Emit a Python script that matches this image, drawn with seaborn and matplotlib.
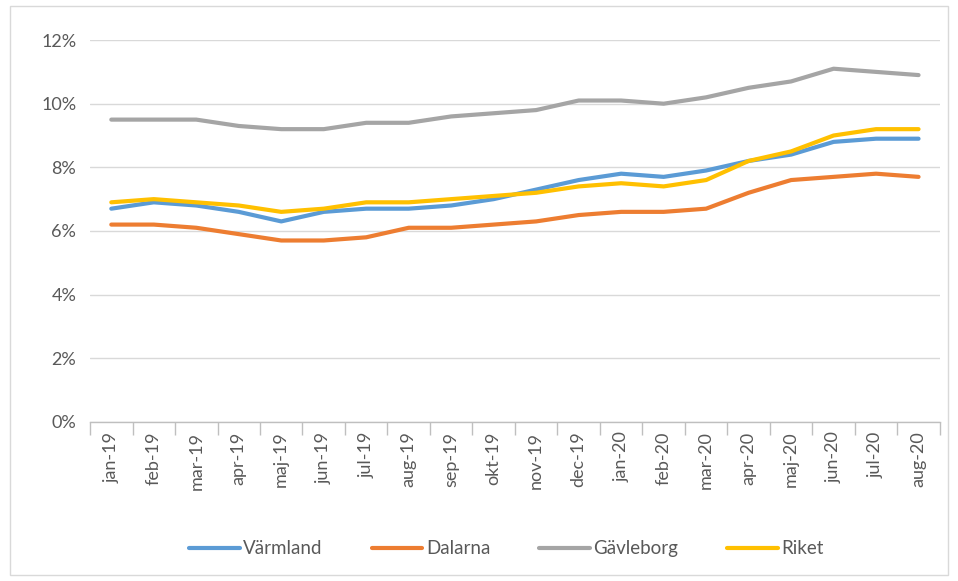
import numpy as np
import pandas as pd
import matplotlib
matplotlib.use("Agg")
import matplotlib.pyplot as plt
from matplotlib.ticker import PercentFormatter, FixedLocator
import seaborn as sns

months = ["jan-19", "feb-19", "mar-19", "apr-19", "maj-19", "jun-19", "jul-19",
          "aug-19", "sep-19", "okt-19", "nov-19", "dec-19", "jan-20", "feb-20",
          "mar-20", "apr-20", "maj-20", "jun-20", "jul-20", "aug-20"]

varmland = [6.7, 6.9, 6.8, 6.6, 6.3, 6.6, 6.7, 6.7, 6.8, 7.0,
            7.3, 7.6, 7.8, 7.7, 7.9, 8.2, 8.4, 8.8, 8.9, 8.9]
dalarna = [6.2, 6.2, 6.1, 5.9, 5.7, 5.7, 5.8, 6.1, 6.1, 6.2,
           6.3, 6.5, 6.6, 6.6, 6.7, 7.2, 7.6, 7.7, 7.8, 7.7]
gavleborg = [9.5, 9.5, 9.5, 9.3, 9.2, 9.2, 9.4, 9.4, 9.6, 9.7,
             9.8, 10.1, 10.1, 10.0, 10.2, 10.5, 10.7, 11.1, 11.0, 10.9]
riket = [6.9, 7.0, 6.9, 6.8, 6.6, 6.7, 6.9, 6.9, 7.0, 7.1,
         7.2, 7.4, 7.5, 7.4, 7.6, 8.2, 8.5, 9.0, 9.2, 9.2]

series = {"Värmland": varmland, "Dalarna": dalarna,
          "Gävleborg": gavleborg, "Riket": riket}
colors = ["#5B9BD5", "#ED7D31", "#A5A5A5", "#FFC000"]

rows = []
for name, vals in series.items():
    for i, v in enumerate(vals):
        rows.append({"idx": i, "month": months[i], "region": name, "value": v})
df = pd.DataFrame(rows)

sns.set_theme(style="white")
plt.rcParams["font.family"] = ["Lato", "DejaVu Sans"]
text_color = "#595959"

fig = plt.figure(figsize=(9.58, 5.81), dpi=100)
ax = fig.add_axes([0.094, 0.274, 0.887, 0.657])

sns.lineplot(data=df, x="idx", y="value", hue="region", palette=colors,
             linewidth=3.0, ax=ax, legend=True)

ax.set_xlim(-0.5, len(months) - 0.5)
ax.set_ylim(0, 12)
ax.set_yticks(np.arange(0, 13, 2))
ax.yaxis.set_major_formatter(PercentFormatter(decimals=0))
ax.yaxis.grid(True, color="#D9D9D9", linewidth=1)
ax.set_axisbelow(True)

ax.set_xticks(range(len(months)))
ax.set_xticklabels(months, rotation=90)
ax.xaxis.set_minor_locator(FixedLocator(np.arange(-0.5, len(months), 1.0)))
ax.tick_params(axis="x", which="major", length=0, pad=7, labelsize=13, labelcolor=text_color)
ax.tick_params(axis="x", which="minor", length=9, width=1, color="#BFBFBF", bottom=True)
ax.tick_params(axis="y", length=0, pad=10, labelsize=13, labelcolor=text_color)

for side in ["top", "right", "left"]:
    ax.spines[side].set_visible(False)
ax.spines["bottom"].set_color("#BFBFBF")
ax.spines["bottom"].set_linewidth(1)

ax.set_xlabel("")
ax.set_ylabel("")

handles, labels = ax.get_legend_handles_labels()
ax.legend(handles, labels, loc="center", bbox_to_anchor=(0.49, -0.333),
          ncol=4, frameon=False, fontsize=13.5, labelcolor=text_color,
          handlelength=2.7, columnspacing=2.6, handletextpad=0.2)

fig.patches.append(plt.Rectangle((0.01, 0.01), 0.98, 0.98, transform=fig.transFigure,
                                 fill=False, edgecolor="#D9D9D9", linewidth=1))

fig.savefig("out.png", dpi=100)
